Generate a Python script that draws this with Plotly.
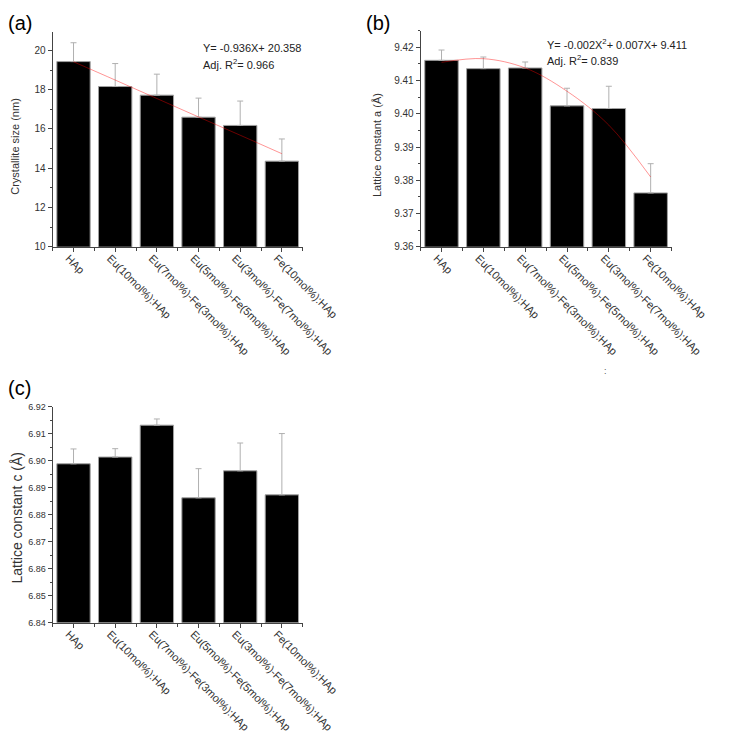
import plotly.graph_objects as go

W, H = 730, 733

categories = ["HAp", "Eu(10mol%):HAp", "Eu(7mol%)-Fe(3mol%):HAp",
              "Eu(5mol%)-Fe(5mol%):HAp", "Eu(3mol%)-Fe(7mol%):HAp", "Fe(10mol%):HAp"]
xpos = [1, 2, 3, 4, 5, 6]

# (a) crystallite size
size_vals = [19.43, 18.16, 17.72, 16.60, 16.18, 14.36]
size_err = [0.96, 1.17, 1.07, 0.97, 1.24, 1.13]
size_fit = [19.42, 18.49, 17.55, 16.61, 15.68, 14.74]

# (b) lattice constant a
a_vals = [9.4161, 9.4136, 9.4138, 9.4024, 9.4016, 9.3762]
a_err = [0.0031, 0.0035, 0.0018, 0.0053, 0.0067, 0.0088]
a_fit = [9.4155, 9.4166, 9.4138, 9.4068, 9.3966, 9.3810]

# (c) lattice constant c
c_vals = [6.8988, 6.9013, 6.9131, 6.8862, 6.8962, 6.8873]
c_err = [0.0055, 0.0031, 0.0023, 0.0108, 0.0103, 0.0227]


def px_x(p):
    return p / W


def px_y(p):
    return 1 - p / H


fig = go.Figure()

panels = [
    ("x", "y", size_vals, size_err, size_fit),
    ("x2", "y2", a_vals, a_err, a_fit),
    ("x3", "y3", c_vals, c_err, None),
]

for xa, ya, vals, errs, fit in panels:
    fig.add_trace(go.Bar(
        x=xpos, y=vals, xaxis=xa, yaxis=ya, width=0.8,
        marker=dict(color="black", line=dict(color="#a0a0a0", width=1)),
        error_y=dict(type="data", symmetric=False, array=errs,
                     arrayminus=[0] * len(errs), color="#b0b0b0",
                     thickness=1, width=3),
        showlegend=False,
    ))
    if fit is not None:
        fig.add_trace(go.Scatter(
            x=xpos, y=fit, xaxis=xa, yaxis=ya, mode="lines",
            line=dict(color="rgba(255,0,0,0.42)", width=1, shape="spline"),
            showlegend=False,
        ))

font_family = "Liberation Sans, Arial, sans-serif"


def xaxis_cfg(domain, anchor):
    return dict(
        domain=domain, anchor=anchor, range=[0.5, 6.5],
        tickmode="array", tickvals=xpos, ticktext=categories,
        tickangle=45, ticks="outside", ticklen=4, tickcolor="#444",
        ticklabelstandoff=-4, ticklabelshift=-5,
        showline=True, linecolor="#444", linewidth=1,
        showgrid=False, zeroline=False,
        tickfont=dict(family=font_family, size=11, color="#333"),
        minor=dict(ticks="outside", ticklen=3, tick0=0.5, dtick=1, tickcolor="#444"),
        fixedrange=True,
    )


def yaxis_cfg(domain, anchor, rng, dtick, mdtick, fmt, fsize):
    return dict(
        domain=domain, anchor=anchor, range=rng,
        dtick=dtick, tick0=rng[0], tickformat=fmt,
        ticks="outside", ticklen=4, tickcolor="#444",
        showline=True, linecolor="#444", linewidth=1,
        showgrid=False, zeroline=False,
        tickfont=dict(family=font_family, size=fsize, color="#333"),
        minor=dict(ticks="outside", ticklen=2, dtick=mdtick, tickcolor="#444"),
        fixedrange=True,
    )


fig.update_layout(
    width=W, height=H,
    margin=dict(l=0, r=0, t=0, b=0),
    paper_bgcolor="white", plot_bgcolor="white",
    bargap=0.2,
    xaxis=xaxis_cfg([px_x(47), px_x(310)], "y"),
    yaxis=yaxis_cfg([px_y(237), px_y(19)], "x", [10, 20.95], 2, 1, ".0f", 10),
    xaxis2=xaxis_cfg([px_x(434), px_x(698)], "y2"),
    yaxis2=yaxis_cfg([px_y(237), px_y(18)], "x2", [9.36, 9.425], 0.01, 0.005, ".2f", 10),
    xaxis3=xaxis_cfg([px_x(47), px_x(310)], "y3"),
    yaxis3=yaxis_cfg([px_y(618), px_y(399)], "x3", [6.84, 6.92], 0.01, 0.005, ".2f", 9),
)

ann = []


def add_text(x, y, text, size, angle=0, xanchor="left", yanchor="top", color="#222"):
    ann.append(dict(
        x=px_x(x), y=px_y(y), xref="paper", yref="paper", text=text,
        showarrow=False, textangle=angle, xanchor=xanchor, yanchor=yanchor,
        font=dict(family=font_family, size=size, color=color),
    ))


# panel labels
add_text(-2, -3, "(a)", 20, color="#000")
add_text(374, -3, "(b)", 20, color="#000")
add_text(-2, 367, "(c)", 20, color="#000")

# axis titles
add_text(8, 135, "Crystallite size (nm)", 11, angle=-90, xanchor="center", yanchor="middle", color="#333")
add_text(388, 134, "Lattice constant a (Å)", 11, angle=-90, xanchor="center", yanchor="middle", color="#333")
add_text(9, 512, "Lattice constant c (Å)", 14, angle=-90, xanchor="center", yanchor="middle", color="#333")

# fit equations
add_text(203, 27, "Y= -0.936X+ 20.358", 11)
add_text(203, 43, "Adj. R<sup>2</sup>= 0.966", 11)
add_text(565, 22, "Y= -0.002X<sup>2</sup>+ 0.007X+ 9.411", 11)
add_text(565, 39, "Adj. R<sup>2</sup>= 0.839", 11)

# stray mark
add_text(628, 363, ":", 9, xanchor="center", yanchor="middle", color="#555")

fig.update_layout(annotations=ann)

fig.write_html("out.html")
